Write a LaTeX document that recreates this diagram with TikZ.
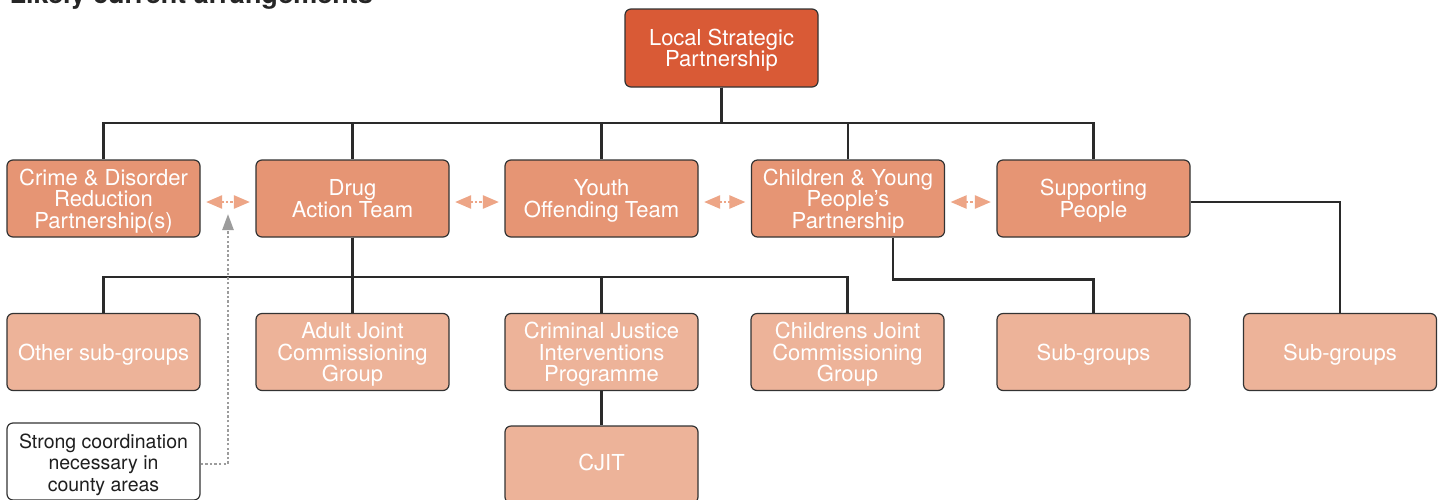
\documentclass[tikz,border=0pt]{standalone}
\usepackage{fontspec}
\setmainfont{TeX Gyre Heros}
\usetikzlibrary{arrows.meta}
\definecolor{lspfill}{HTML}{D95A36}
\definecolor{rowa}{HTML}{E69574}
\definecolor{rowb}{HTML}{EDB399}
\definecolor{relcol}{HTML}{EDA586}
\definecolor{edgecol}{HTML}{333333}
\definecolor{conncol}{HTML}{2A2A2A}
\definecolor{notegrey}{HTML}{9C9C9C}
\newcommand{\topstrut}{\rule{0pt}{22pt}}
\newcommand{\botstrut}{\rule[-6pt]{0pt}{6pt}}
\newcommand{\ntopstrut}{\rule{0pt}{21pt}}
\newcommand{\nbotstrut}{\rule[-4.6pt]{0pt}{4.6pt}}
\tikzset{
  box/.style={draw=edgecol, line width=1.2pt, rounded corners=6pt,
    minimum width=193pt, minimum height=77pt, inner sep=0pt,
    align=center, text=white, font=\fontsize{22}{21.5}\selectfont},
  topbox/.style={box, fill=lspfill, minimum height=78pt},
  boxa/.style={box, fill=rowa},
  boxb/.style={box, fill=rowb},
  notebox/.style={box, fill=white, text=black!88, font=\fontsize{19.5}{21.7}\selectfont},
  conn/.style={draw=conncol, line width=2.4pt},
  rel/.style={draw=relcol, line width=2.4pt, dotted,
    {Triangle[length=16pt,width=13pt]}-{Triangle[length=16pt,width=13pt]}},
  notearrow/.style={draw=notegrey, line width=2.4pt, dash pattern=on 2.4pt off 2.2pt,
    -{Triangle[length=16pt,width=11pt]}},
}
\begin{document}
\begin{tikzpicture}[x=1pt,y=-1pt]
\useasboundingbox[fill=white] (0,0) rectangle (1447,499);
\node[anchor=base west, font=\bfseries\fontsize{27}{30}\selectfont, text=black!85] (title) at (6,3) {Likely current arrangements};

\node[topbox] (lsp) at (721.5,48) {\topstrut Local Strategic\\Partnership\botstrut};

\node[boxa] (cdrp) at (103.5,198.5) {\topstrut Crime \& Disorder\\Reduction\\Partnership(s)\botstrut};
\node[boxa] (dat)  at (352.5,198.5) {\topstrut Drug\\Action Team\botstrut};
\node[boxa] (yot)  at (601.5,198.5) {\topstrut Youth\\Offending Team\botstrut};
\node[boxa] (cypp) at (848,198.5) {\topstrut Children \& Young\\People’s\\Partnership\botstrut};
\node[boxa] (sp)   at (1093.5,198.5) {\topstrut Supporting\\People\botstrut};

\node[boxb] (osg)  at (103.5,352) {\topstrut Other sub-groups\botstrut};
\node[boxb] (ajcg) at (352.5,352) {\topstrut Adult Joint\\Commissioning\\Group\botstrut};
\node[boxb] (cjip) at (601.5,352) {\topstrut Criminal Justice\\Interventions\\Programme\botstrut};
\node[boxb] (cjcg) at (847.5,352) {\topstrut Childrens Joint\\Commissioning\\Group\botstrut};
\node[boxb] (sga)  at (1093.5,352) {\topstrut Sub-groups\botstrut};
\node[boxb] (sgb)  at (1340,352) {\topstrut Sub-groups\botstrut};

\node[boxb] (cjit) at (601.5,464.5) {\rule{0pt}{22pt}CJIT\rule[-11pt]{0pt}{11pt}};
\node[notebox] (note) at (103.5,461.5) {\ntopstrut Strong coordination\\necessary in\\county areas\nbotstrut};

% bus from LSP
\coordinate (busa) at (721.5,123);
\foreach \n in {cdrp,dat,yot,cypp,sp}
  \draw[conn] (lsp.south) -- (busa) -| (\n.north);

% bus from DAT
\coordinate (busb) at (352.5,277);
\foreach \n in {osg,ajcg,cjip,cjcg}
  \draw[conn] (dat.south) -- (busb) -| (\n.north);

\draw[conn] (cjip.south) -- (cjit.north);
\draw[conn] ([xshift=45pt]cypp.south) -- ++(0,42) -| (sga.north);
\draw[conn] ([yshift=-3.5pt]sp.east) -| (sgb.north);

% relation arrows
\draw[rel] ([xshift=5.5pt,yshift=-3.5pt]cdrp.east) -- ([xshift=-5.5pt,yshift=-3.5pt]dat.west);
\draw[rel] ([xshift=5.5pt,yshift=-3.5pt]dat.east) -- ([xshift=-5.5pt,yshift=-3.5pt]yot.west);
\draw[rel] ([xshift=5.5pt,yshift=-3.5pt]yot.east) -- ([xshift=-5.5pt,yshift=-3.5pt]cypp.west);
\draw[rel] ([xshift=5.5pt,yshift=-3.5pt]cypp.east) -- ([xshift=-5.5pt,yshift=-3.5pt]sp.west);

\coordinate (tip) at (228,214);
\draw[notearrow] ([yshift=-2.5pt]note.east) -| (tip);
\end{tikzpicture}
\end{document}
